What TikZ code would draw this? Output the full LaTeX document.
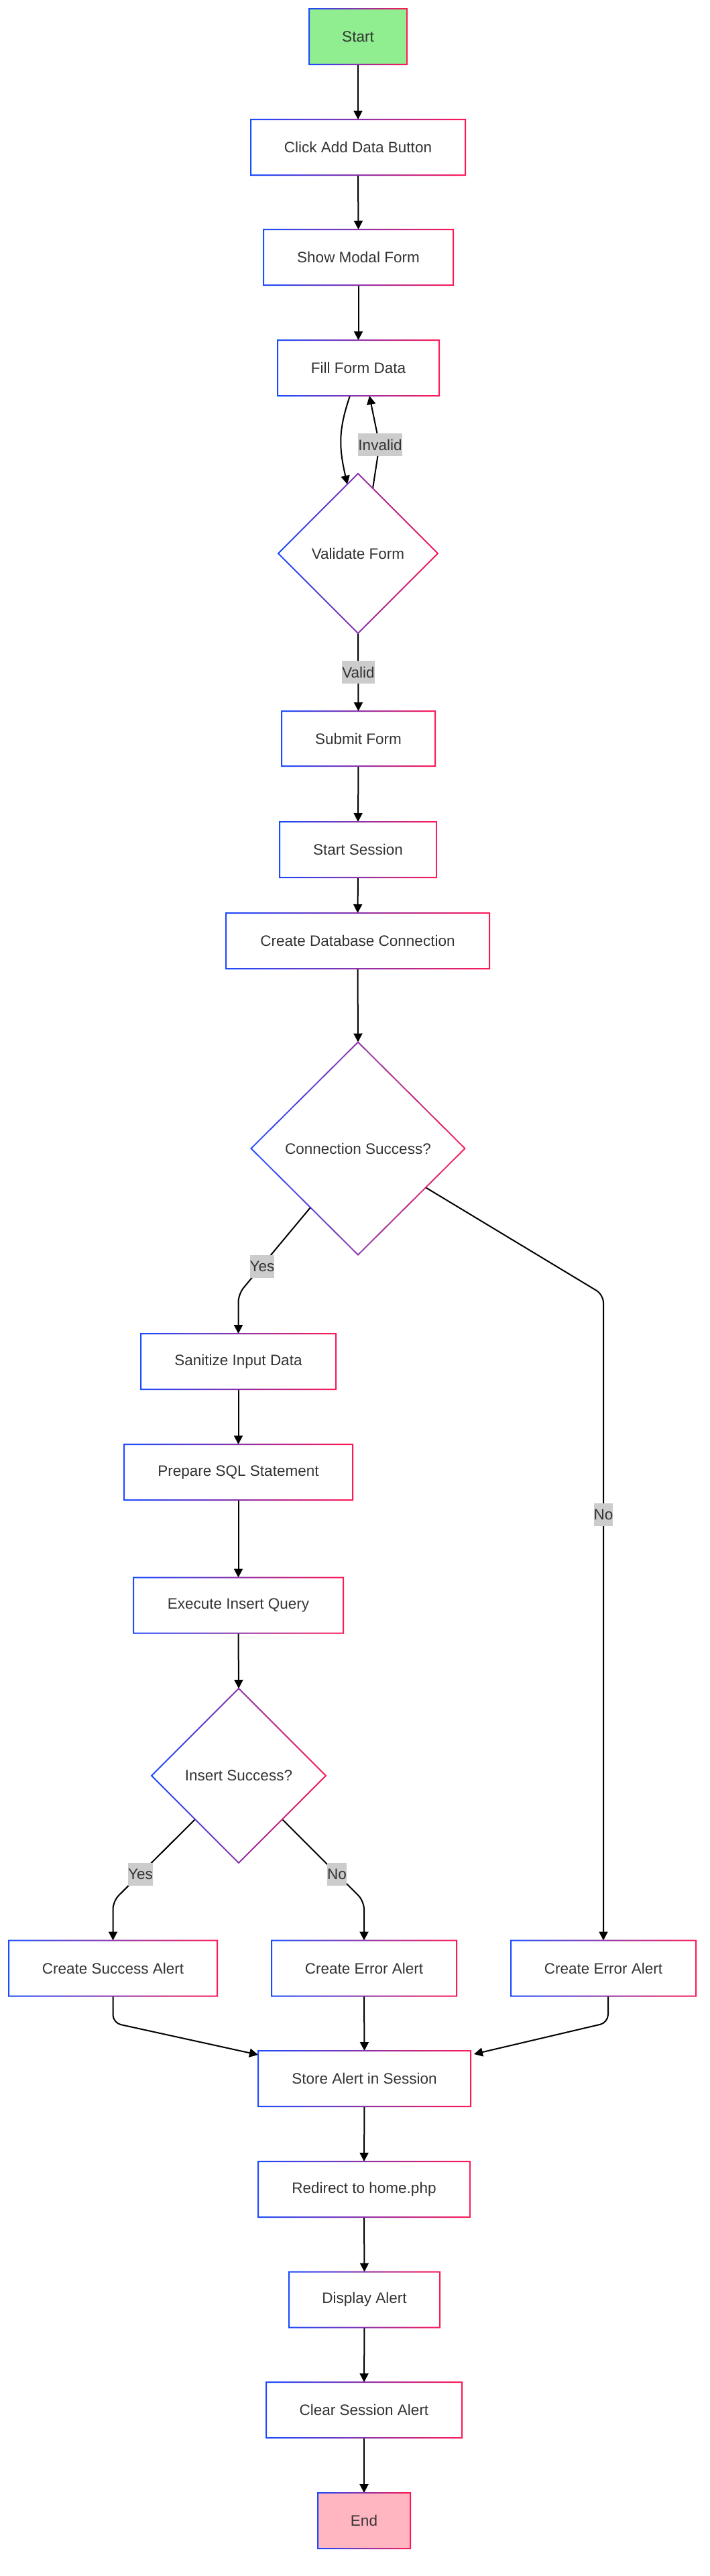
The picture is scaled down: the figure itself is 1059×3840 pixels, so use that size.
\documentclass[tikz,border=0pt]{standalone}
\usepackage{fontspec}
\setmainfont{Liberation Sans}
\usetikzlibrary{shapes.geometric,arrows.meta,calc}
\definecolor{gblue}{RGB}{25,75,255}
\definecolor{gred}{RGB}{255,25,85}
\definecolor{txt}{RGB}{51,51,51}
\definecolor{lblbg}{RGB}{204,204,204}
\definecolor{startfill}{RGB}{144,238,144}
\definecolor{endfill}{RGB}{255,182,193}
\newcommand\gbord[1]{\shade[left color=gblue,right color=gred,even odd rule] ($(#1.north west)+(-1,-1)$) rectangle ($(#1.south east)+(1,1)$) ($(#1.north west)+(1,1)$) rectangle ($(#1.south east)+(-1,-1)$);}
\newcommand\gdiam[1]{\shade[left color=gblue,right color=gred,even odd rule] ($(#1.north)+(0,-1.3)$) -- ($(#1.east)+(1.3,0)$) -- ($(#1.south)+(0,1.3)$) -- ($(#1.west)+(-1.3,0)$) -- cycle ($(#1.north)+(0,1.3)$) -- ($(#1.east)+(-1.3,0)$) -- ($(#1.south)+(0,-1.3)$) -- ($(#1.west)+(1.3,0)$) -- cycle;}
\begin{document}
\begin{tikzpicture}[x=0.5pt,y=-0.5pt,
  box/.style={rectangle, inner sep=0pt, outer sep=0pt, minimum height=41.5pt, font=\fontsize{11.25}{13.5}\selectfont, text=txt},
  dia/.style={diamond, inner sep=0pt, outer sep=0pt, font=\fontsize{11.25}{13.5}\selectfont, text=txt},
  lbl/.style={fill=lblbg, inner xsep=0pt, inner ysep=0pt, minimum height=17pt, font=\fontsize{11.25}{13.5}\selectfont, text=txt},
  arr/.style={-{Triangle[length=6.5pt,width=6.5pt]}, line width=1pt, black, rounded corners=6pt}]
\useasboundingbox (0,0) rectangle (1059,3840);
\fill[white] (0,0) rectangle (1059,3840);
% nodes
\node[box, fill=startfill, minimum width=73pt] (start) at (534,54.5) {Start};
\node[box, minimum width=160pt] (click) at (534,219.5) {Click Add Data Button};
\node[box, minimum width=141.5pt] (show) at (534.5,383.5) {Show Modal Form};
\node[box, minimum width=120.5pt] (fill) at (534.5,548.5) {Fill Form Data};
\node[dia, minimum width=119pt, minimum height=119pt] (val) at (534,825) {Validate Form};
\node[box, minimum width=114.5pt, minimum height=41pt] (submit) at (534.5,1101) {Submit Form};
\node[box, minimum width=117pt] (sess) at (534,1266.5) {Start Session};
\node[box, minimum width=196.5pt] (db) at (533.5,1402.5) {Create Database Connection};
\node[dia, minimum width=159.5pt, minimum height=158.5pt] (conn) at (534,1712) {Connection Success?};
\node[box, minimum width=145.5pt] (sani) at (355.5,2029.5) {Sanitize Input Data};
\node[box, minimum width=170.5pt] (prep) at (355.5,2194.5) {Prepare SQL Statement};
\node[box, minimum width=156.5pt] (exec) at (355.5,2393) {Execute Insert Query};
\node[dia, minimum width=130pt, minimum height=130pt] (ins) at (356,2647) {Insert Success?};
\node[box, minimum width=155.5pt] (succ) at (168.5,2934) {Create Success Alert};
\node[box, minimum width=138pt] (err1) at (543,2934) {Create Error Alert};
\node[box, minimum width=138pt] (err2) at (900,2934) {Create Error Alert};
\node[box, minimum width=158.5pt] (store) at (543.5,3098.5) {Store Alert in Session};
\node[box, minimum width=158pt] (redir) at (543,3263.5) {Redirect to home.php};
\node[box, minimum width=112.5pt] (disp) at (543.5,3428) {Display Alert};
\node[box, minimum width=146pt] (clear) at (543,3592.5) {Clear Session Alert};
\node[box, fill=endfill, minimum width=69pt] (end) at (543,3757.5) {End};
% edges
\draw[arr] (start.south) -- (click.north);
\draw[arr] (click.south) -- (show.north);
\draw[arr] (show.south) -- (fill.north);
\draw[arr] ($(fill.south)+(-12.5,0)$) .. controls (505,640) and (505,665) .. ($(val.north)!0.134!(val.west)$);
\draw[arr] ($(val.north)!0.185!(val.east)$) -- (566,663) -- ($(fill.south)+(16.5,0)$);
\draw[arr] (val.south) -- (submit.north);
\draw[arr] (submit.south) -- (sess.north);
\draw[arr] (sess.south) -- (db.north);
\draw[arr] (db.south) -- (conn.north);
\draw[arr] ($(conn.south)!0.445!(conn.west)$) -- (355.5,1929) -- (sani.north);
\draw[arr] ($(conn.south)!0.633!(conn.east)$) -- (900,1930) -- (err2.north);
\draw[arr] (sani.south) -- (prep.north);
\draw[arr] (prep.south) -- (exec.north);
\draw[arr] (exec.south) -- (ins.north);
\draw[arr] ($(ins.south)!0.5!(ins.west)$) -- (168.5,2834) -- (succ.north);
\draw[arr] ($(ins.south)!0.5!(ins.east)$) -- (543,2834) -- (err1.north);
\draw[arr] (succ.south) -- (168.5,3015.5) -- ($(store.north west)+(0,6)$);
\draw[arr] (err1.south) -- (store.north);
\draw[arr] ($(err2.south)+(7,0)$) -- (907,3015) -- ($(store.north east)+(5,5)$);
\draw[arr] (store.south) -- (redir.north);
\draw[arr] (redir.south) -- (disp.north);
\draw[arr] (disp.south) -- (clear.north);
\draw[arr] (clear.south) -- (end.north);
% edge labels
\node[lbl] (linv) at (567,663) {Invalid};
\node[lbl] (lval) at (534.5,1002) {Valid};
\node[lbl] (lyes1) at (391,1888) {Yes};
\node[lbl] (lno1) at (900,2258) {No};
\node[lbl] (lyes2) at (209.5,2794) {Yes};
\node[lbl] (lno2) at (502.5,2794) {No};
% gradient borders
\foreach \n in {start,click,show,fill,submit,sess,db,sani,prep,exec,succ,err1,err2,store,redir,disp,clear,end} {\gbord{\n}}
\foreach \n in {val,conn,ins} {\gdiam{\n}}
\end{tikzpicture}
\end{document}
